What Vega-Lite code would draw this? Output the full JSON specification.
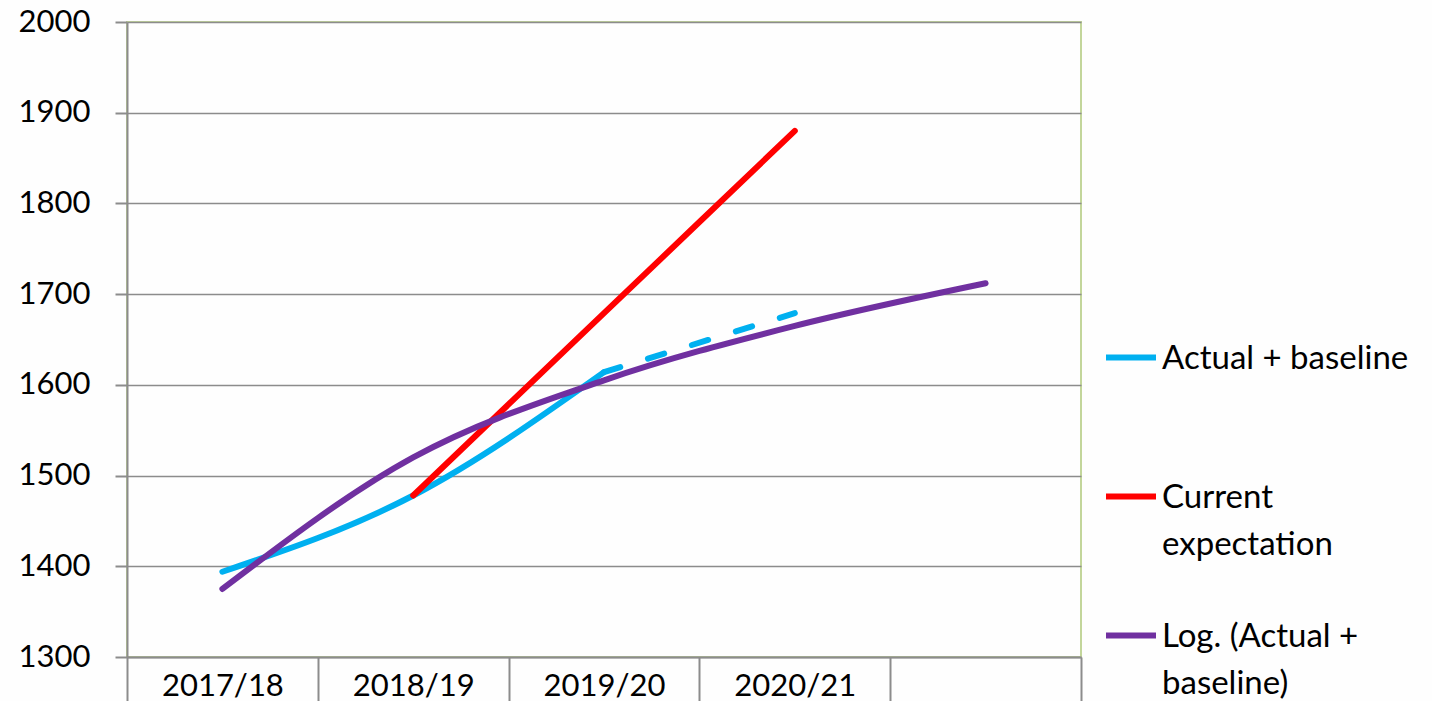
{
  "$schema": "https://vega.github.io/schema/vega-lite/v6.json",
  "width": 954,
  "height": 635,
  "autosize": {"type": "none"},
  "padding": {"left": 127, "top": 22, "right": 351, "bottom": 44},
  "background": "#fefefe",
  "data": {
    "values": [
      {"year": "2017/18", "value": 1394, "series": "Actual + baseline", "seg": "a"},
      {"year": "2018/19", "value": 1478, "series": "Actual + baseline", "seg": "a"},
      {"year": "2019/20", "value": 1614, "series": "Actual + baseline", "seg": "a"},
      {"year": "2019/20", "value": 1614, "series": "Actual + baseline", "seg": "b"},
      {"year": "2020/21", "value": 1679, "series": "Actual + baseline", "seg": "b"},
      {"year": "2018/19", "value": 1478, "series": "Current expectation", "seg": "c"},
      {"year": "2019/20", "value": 1679, "series": "Current expectation", "seg": "c"},
      {"year": "2020/21", "value": 1880, "series": "Current expectation", "seg": "c"},
      {"year": "2017/18", "value": 1375, "series": "Log. (Actual + baseline)", "seg": "d"},
      {"year": "2018/19", "value": 1520, "series": "Log. (Actual + baseline)", "seg": "d"},
      {"year": "2019/20", "value": 1605, "series": "Log. (Actual + baseline)", "seg": "d"},
      {"year": "2020/21", "value": 1665, "series": "Log. (Actual + baseline)", "seg": "d"},
      {"year": "2021/22", "value": 1712, "series": "Log. (Actual + baseline)", "seg": "d"}
    ]
  },
  "encoding": {
    "x": {
      "field": "year",
      "type": "nominal",
      "scale": {"domain": ["2017/18", "2018/19", "2019/20", "2020/21", "2021/22"], "paddingInner": 0, "paddingOuter": 0},
      "axis": {
        "title": null,
        "labelAngle": 0,
        "tickBand": "extent",
        "tickSize": 44,
        "labelPadding": -30,
        "labelExpr": "datum.value == '2021/22' ? '' : datum.label",
        "grid": false
      }
    },
    "y": {
      "field": "value",
      "type": "quantitative",
      "scale": {"domain": [1300, 2000], "nice": false, "zero": false},
      "axis": {
        "title": null,
        "format": "d",
        "values": [1300, 1400, 1500, 1600, 1700, 1800, 1900, 2000],
        "tickSize": 12,
        "labelPadding": 25,
        "grid": true
      }
    },
    "color": {
      "field": "series",
      "type": "nominal",
      "scale": {
        "domain": ["Actual + baseline", "Current expectation", "Log. (Actual + baseline)"],
        "range": ["#00b0f0", "#ff0000", "#7030a0"]
      },
      "legend": {
        "title": null,
        "orient": "none",
        "legendX": 976,
        "legendY": 266,
        "padding": 0,
        "symbolType": "stroke",
        "symbolSize": 2500,
        "symbolStrokeWidth": 6,
        "clipHeight": 139,
        "rowPadding": 0,
        "labelOffset": 3,
        "labelLimit": 400,
        "labelBaseline": "top",
        "labelExpr": "datum.label == 'Current expectation' ? ['Current','expectation'] : datum.label == 'Log. (Actual + baseline)' ? ['Log. (Actual +','baseline)'] : datum.label",
        "encode": {"labels": {"update": {"dy": {"value": -15}}}}
      }
    },
    "detail": {"field": "seg"}
  },
  "layer": [
    {
      "transform": [{"filter": "datum.seg != 'b'"}],
      "mark": {"type": "line", "strokeWidth": 6, "strokeCap": "round", "interpolate": "monotone"}
    },
    {
      "transform": [{"filter": "datum.seg == 'b'"}],
      "mark": {"type": "line", "strokeWidth": 6, "strokeCap": "round", "interpolate": "monotone", "strokeDash": [17, 29]}
    }
  ],
  "config": {
    "font": "Lato",
    "view": {"stroke": "#c3d69b", "strokeWidth": 2},
    "axis": {
      "labelFont": "Lato",
      "labelFontSize": 31,
      "labelColor": "#000000",
      "domainColor": "#8c8c8c",
      "domainWidth": 2,
      "tickColor": "#8c8c8c",
      "tickWidth": 2,
      "gridColor": "#8c8c8c",
      "gridWidth": 1.5
    },
    "legend": {
      "labelFont": "Lato",
      "labelFontSize": 33,
      "labelColor": "#000000"
    },
    "style": {"guide-label": {"lineHeight": 47}}
  }
}
